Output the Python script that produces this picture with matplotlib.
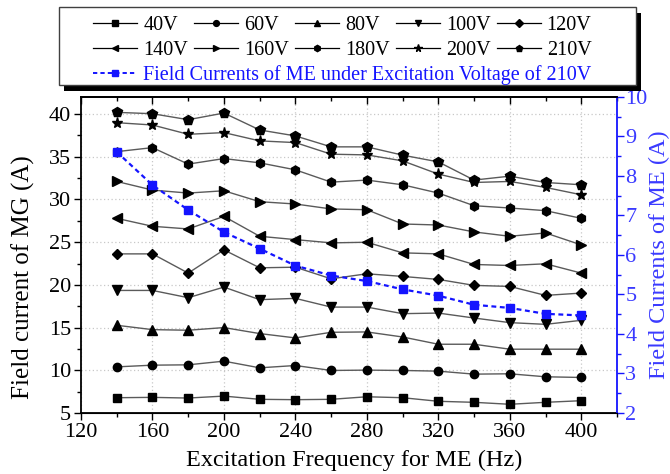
import matplotlib
matplotlib.use("Agg")
import matplotlib.pyplot as plt
from matplotlib.lines import Line2D
from matplotlib.patches import Rectangle
from matplotlib.ticker import MultipleLocator

plt.rcParams["font.family"] = ["Liberation Serif", "DejaVu Serif"]

# --- data ------------------------------------------------------------
freq_hz = [140, 160, 180, 200, 220, 240, 260, 280, 300, 320, 340, 360, 380, 400]

mg_40v = [6.79, 6.83, 6.75, 6.98, 6.60, 6.56, 6.60, 6.90, 6.79, 6.37, 6.25, 6.02, 6.25, 6.44]
mg_60v = [10.40, 10.60, 10.64, 11.07, 10.29, 10.56, 9.98, 10.02, 9.98, 9.90, 9.55, 9.59, 9.24, 9.16]
mg_80v = [15.27, 14.76, 14.69, 15.00, 14.30, 13.79, 14.45, 14.49, 13.90, 13.05, 13.05, 12.47, 12.47, 12.47]
mg_100v = [19.35, 19.35, 18.50, 19.74, 18.27, 18.42, 17.40, 17.40, 16.63, 16.70, 16.12, 15.58, 15.38, 15.85]
mg_120v = [23.63, 23.63, 21.38, 24.10, 22.00, 22.07, 20.71, 21.30, 20.99, 20.64, 19.94, 19.82, 18.77, 19.04]
mg_140v = [27.79, 26.86, 26.55, 28.02, 25.69, 25.30, 24.92, 24.99, 23.75, 23.63, 22.39, 22.27, 22.47, 21.38]
mg_160v = [32.11, 31.10, 30.75, 31.02, 29.74, 29.47, 28.89, 28.80, 27.13, 27.01, 26.20, 25.69, 26.08, 24.68]
mg_180v = [35.60, 36.07, 34.14, 34.79, 34.29, 33.47, 32.03, 32.27, 31.72, 30.75, 29.27, 29.00, 28.69, 27.79]
mg_200v = [38.99, 38.72, 37.63, 37.83, 36.86, 36.66, 35.30, 35.22, 34.52, 32.97, 31.99, 32.11, 31.41, 30.55]
mg_210v = [40.20, 40.04, 39.34, 40.12, 38.14, 37.44, 36.16, 36.16, 35.19, 34.40, 32.27, 32.73, 31.99, 31.72]

me_210v = [8.61, 7.77, 7.14, 6.58, 6.16, 5.73, 5.48, 5.34, 5.13, 4.97, 4.74, 4.66, 4.51, 4.47]

mg_series = [mg_40v, mg_60v, mg_80v, mg_100v, mg_120v,
             mg_140v, mg_160v, mg_180v, mg_200v, mg_210v]
mg_labels = ["40V", "60V", "80V", "100V", "120V",
             "140V", "160V", "180V", "200V", "210V"]
mg_markers = ["s", "o", "^", "v", "D", "<", ">", "h", "*", "p"]
me_label = "Field Currents of ME under Excitation Voltage of 210V"

BLUE = "#1414ff"
TICK_BLUE = "#3a3aff"
LINE_GRAY = "#5a5a5a"

fig = plt.figure(figsize=(6.70, 4.74), dpi=100)
ax = fig.add_axes([0.1209, 0.1287, 0.8, 0.6667])
ax2 = ax.twinx()

sizes = {"s": 5.5, "o": 6, "^": 6.5, "v": 6.5, "D": 5.5, "<": 6.5,
         ">": 6.5, "h": 6.5, "*": 8, "p": 7}
handles = []
for values, label, marker in zip(mg_series, mg_labels, mg_markers):
    ax.plot(freq_hz, values, color=LINE_GRAY, lw=1.0, zorder=3)
    ax.plot(freq_hz, values, ls="none", marker=marker, ms=sizes[marker],
            mfc="black", mec="black", zorder=4)
    handles.append(Line2D([], [], color="black", lw=0.9, marker=marker,
                          ms=sizes[marker] * 0.7, mfc="black", mec="black",
                          label=label))

ax2.plot(freq_hz, me_210v, color=BLUE, lw=1.6, ls=(0, (2.2, 1.6)),
         marker="s", ms=6, mfc=BLUE, mec=BLUE, zorder=5)
me_handle = Line2D([], [], color=BLUE, lw=1.4, ls=(0, (2.2, 1.6)),
                   marker="s", ms=4.5, mfc=BLUE, mec=BLUE, label=me_label)

# --- axes styling ------------------------------------------------------
ax.set_xlim(120, 420)
ax.set_ylim(5, 42)
ax2.set_ylim(2, 10)
ax.xaxis.set_major_locator(MultipleLocator(40))
ax.xaxis.set_minor_locator(MultipleLocator(20))
ax.yaxis.set_major_locator(MultipleLocator(5))
ax.yaxis.set_minor_locator(MultipleLocator(2.5))
ax2.yaxis.set_major_locator(MultipleLocator(1))
ax2.yaxis.set_minor_locator(MultipleLocator(0.5))

ax.grid(True, which="major", color="#c8c8c8", ls=(0, (1, 2)), lw=0.9)
ax.set_axisbelow(True)

ax.tick_params(axis="both", which="both", direction="out", labelsize=16,
               width=1.0, top=False, right=False, pad=2)
ax.tick_params(which="major", length=5)
ax.tick_params(which="minor", length=3)
ax.tick_params(axis="x", which="both", top=True, labeltop=False)
ax2.tick_params(axis="y", which="both", direction="out", colors=BLUE,
                labelcolor=TICK_BLUE, labelsize=16, width=1.0, pad=1)
ax2.tick_params(which="major", length=5)
ax2.tick_params(which="minor", length=3)

for side in ("left", "bottom", "top"):
    ax.spines[side].set_linewidth(1.3)
ax2.spines["right"].set_color(BLUE)
ax2.spines["right"].set_linewidth(1.3)
ax2.spines["left"].set_visible(False)
ax2.spines["top"].set_linewidth(1.3)
ax.spines["right"].set_visible(False)

# top ticks point inward
for tick in ax.xaxis.get_major_ticks() + ax.xaxis.get_minor_ticks():
    tick.tick2line.set_marker(3)

ax.set_xlabel("Excitation Frequency for ME (Hz)", fontsize=17.5)
ax.xaxis.set_label_coords(0.51, -0.115)
ax.set_ylabel("Field current of MG (A)", fontsize=18)
ax.yaxis.set_label_coords(-0.085, 0.43)
ax2.set_ylabel("Field Currents of ME (A)", fontsize=17.5, color=TICK_BLUE,
               labelpad=1)

# --- legend box with drop shadow (figure coords) ----------------------
W, H = 670.0, 474.0
box_l, box_r, box_t, box_b = 59, 636, 7, 85
fig.patches.append(Rectangle(((box_l + 5) / W, 1 - (box_b + 6) / H),
                             (box_r - box_l) / W, (box_b - box_t) / H,
                             transform=fig.transFigure, facecolor="black",
                             edgecolor="black", lw=0, zorder=1))
fig.patches.append(Rectangle((box_l / W, 1 - box_b / H),
                             (box_r - box_l) / W, (box_b - box_t) / H,
                             transform=fig.transFigure, facecolor="white",
                             edgecolor="#404040", lw=1.0, zorder=2))

order = [0, 5, 1, 6, 2, 7, 3, 8, 4, 9]
leg1 = fig.legend([handles[i] for i in order], [mg_labels[i] for i in order],
                  ncol=5, loc="upper left",
                  bbox_to_anchor=(93 / W, 1 - 16 / H), frameon=False,
                  fontsize=14.5, handlelength=2.19, handletextpad=0.3,
                  columnspacing=0.3, labelspacing=0.3, borderpad=0,
                  borderaxespad=0)
leg1.set_zorder(3)
leg2 = fig.legend([me_handle], [me_label], loc="upper left",
                  bbox_to_anchor=(93 / W, 1 - 65 / H), frameon=False,
                  fontsize=14.5, handlelength=2.19, handletextpad=0.3,
                  borderpad=0, borderaxespad=0, labelcolor=BLUE)
leg2.set_zorder(3)

fig.savefig("out.png", dpi=100)
